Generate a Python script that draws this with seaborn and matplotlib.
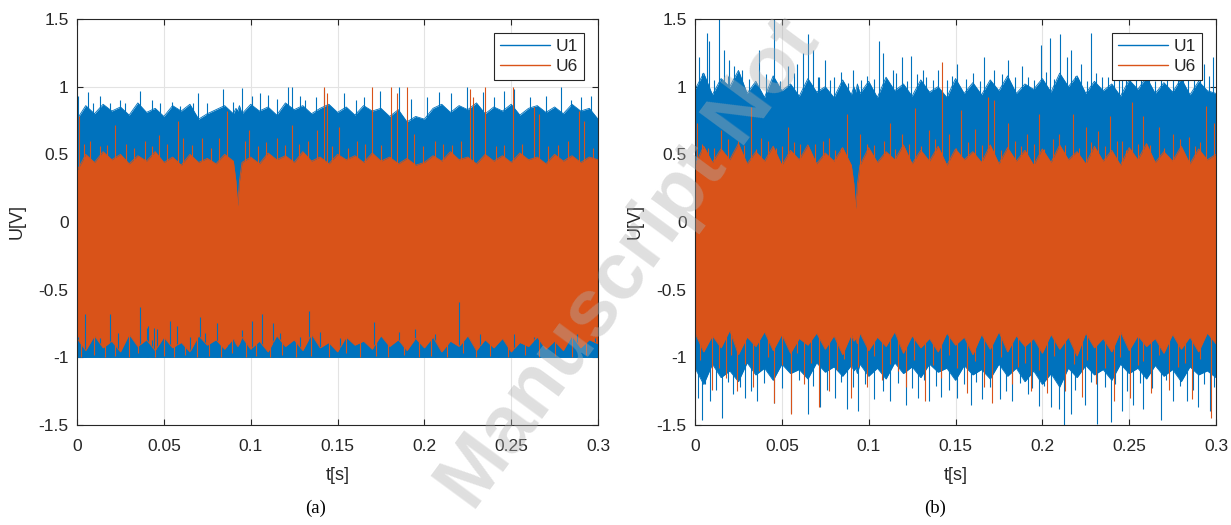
import matplotlib
matplotlib.use("Agg")
import matplotlib.pyplot as plt
import seaborn as sns

# time axis + tick labels
xticks = [0, 0.05, 0.1, 0.15, 0.2, 0.25, 0.3]
xtick_labels = ["0", "0.05", "0.1", "0.15", "0.2", "0.25", "0.3"]
yticks = [-1.5, -1, -0.5, 0, 0.5, 1, 1.5]
ytick_labels = ["-1.5", "-1", "-0.5", "0", "0.5", "1", "1.5"]

env_t = [0.000, 0.005, 0.010, 0.015, 0.020, 0.025, 0.030, 0.035, 0.040, 0.045,
         0.050, 0.055, 0.060, 0.065, 0.070, 0.075, 0.080, 0.085, 0.090,
         0.0915, 0.0925, 0.0935,
         0.095, 0.100, 0.105, 0.110, 0.115, 0.120, 0.125, 0.130, 0.135, 0.140, 0.145,
         0.150, 0.155, 0.160, 0.165, 0.170, 0.175, 0.180, 0.185, 0.190, 0.195,
         0.200, 0.205, 0.210, 0.215, 0.220, 0.225, 0.230, 0.235, 0.240, 0.245,
         0.250, 0.255, 0.260, 0.265, 0.270, 0.275, 0.280, 0.285, 0.290, 0.295, 0.300]

# ---- panel (a) ----
u1a_hi = [0.76, 0.86, 0.80, 0.87, 0.82, 0.85, 0.79, 0.88, 0.81, 0.84, 0.78, 0.86, 0.82, 0.87, 0.76, 0.80, 0.83, 0.86, 0.80,
          0.84, 0.82, 0.86,
          0.80, 0.87, 0.82, 0.85, 0.79, 0.88, 0.83, 0.86, 0.80, 0.84, 0.87, 0.81, 0.85, 0.79, 0.86, 0.82, 0.84, 0.78, 0.83, 0.74, 0.78,
          0.76, 0.84, 0.87, 0.81, 0.86, 0.83, 0.88, 0.80, 0.85, 0.82, 0.87, 0.79, 0.84, 0.86, 0.81, 0.85, 0.80, 0.87, 0.82, 0.84, 0.76]
u1a_lo = [-1.0, -1.0, -1.0, -1.0, -1.0, -1.0, -1.0, -1.0, -1.0, -1.0, -1.0, -1.0, -1.0, -1.0, -1.0, -1.0, -1.0, -1.0, -1.0,
          -1.0, -1.0, -1.0,
          -1.0, -1.0, -1.0, -1.0, -1.0, -1.0, -1.0, -1.0, -1.0, -1.0, -1.0, -1.0, -1.0, -1.0, -1.0, -1.0, -1.0, -1.0, -1.0, -1.0, -1.0,
          -1.0, -1.0, -1.0, -1.0, -1.0, -1.0, -1.0, -1.0, -1.0, -1.0, -1.0, -1.0, -1.0, -1.0, -1.0, -1.0, -1.0, -1.0, -1.0, -1.0, -1.0]
u6a_hi = [0.38, 0.50, 0.44, 0.52, 0.46, 0.50, 0.43, 0.49, 0.45, 0.52, 0.44, 0.48, 0.42, 0.50, 0.44, 0.47, 0.43, 0.50, 0.45,
          0.30, 0.12, 0.30,
          0.44, 0.48, 0.43, 0.51, 0.46, 0.49, 0.44, 0.52, 0.45, 0.48, 0.43, 0.50, 0.46, 0.49, 0.44, 0.51, 0.45, 0.48, 0.43, 0.47, 0.42,
          0.44, 0.49, 0.45, 0.52, 0.46, 0.48, 0.43, 0.50, 0.45, 0.49, 0.44, 0.51, 0.46, 0.48, 0.43, 0.50, 0.45, 0.49, 0.44, 0.48, 0.46]
u6a_lo = [-0.86, -0.95, -0.84, -0.93, -0.88, -0.96, -0.83, -0.92, -0.87, -0.95, -0.85, -0.93, -0.89, -0.96, -0.84, -0.91, -0.87, -0.94, -0.86,
          -0.90, -0.92, -0.90,
          -0.85, -0.94, -0.88, -0.96, -0.84, -0.92, -0.87, -0.95, -0.83, -0.93, -0.89, -0.96, -0.85, -0.91, -0.88, -0.94, -0.84, -0.92, -0.87, -0.95, -0.86,
          -0.93, -0.85, -0.96, -0.88, -0.92, -0.84, -0.95, -0.87, -0.93, -0.86, -0.96, -0.89, -0.92, -0.85, -0.94, -0.88, -0.95, -0.84, -0.93, -0.87, -0.90]

u1a_up_t = [0.0008, 0.0065, 0.0094, 0.0132, 0.019, 0.0248, 0.0276, 0.0363, 0.043, 0.0478,
            0.0545, 0.0593, 0.067, 0.0699, 0.0747, 0.0843, 0.090, 0.0948, 0.1006, 0.1054,
            0.1102, 0.115, 0.1217, 0.1236, 0.1284, 0.131, 0.1378, 0.1424, 0.1538, 0.1606,
            0.1651, 0.1743, 0.1856, 0.1925, 0.2016, 0.2084, 0.2153, 0.2248, 0.2335, 0.2403,
            0.246, 0.2517, 0.2608, 0.2699, 0.2786, 0.2847, 0.2904, 0.2961]
u1a_up_v = [0.93, 0.96, 0.88, 0.93, 0.88, 0.90, 0.88, 0.97, 0.90, 0.88,
            0.89, 0.86, 0.88, 0.95, 0.88, 0.98, 0.89, 0.99, 0.93, 0.95,
            0.94, 0.91, 1.00, 1.00, 0.93, 0.90, 0.92, 0.98, 0.95, 0.90,
            0.92, 0.97, 1.00, 0.91, 0.92, 0.96, 0.95, 1.00, 0.96, 0.92,
            0.97, 0.98, 0.92, 0.93, 1.00, 0.90, 0.92, 0.93]
# blue strokes that show through the orange band near the bottom
u1a_gap_t = [0.0008, 0.0046, 0.0132, 0.019, 0.0238, 0.0315, 0.0363, 0.0411, 0.043, 0.0535,
             0.0574, 0.065, 0.0708, 0.0737, 0.0804, 0.0871, 0.0948, 0.1006, 0.1063, 0.113,
             0.1169, 0.1246, 0.1284, 0.1333, 0.1401, 0.1515, 0.1708, 0.1856, 0.1948, 0.2062,
             0.2198, 0.2323, 0.2426, 0.2517, 0.2631, 0.2745, 0.2881, 0.2984, 0.0400, 0.0445, 0.0460]
u1a_gap_v = [-0.85, -0.68, -0.86, -0.68, -0.82, -0.95, -0.63, -0.77, -0.87, -0.73,
             -0.77, -0.85, -0.70, -0.82, -0.75, -0.90, -0.80, -0.73, -0.68, -0.75,
             -0.82, -0.90, -0.85, -0.66, -0.81, -0.86, -0.74, -0.81, -0.79, -0.83,
             -0.59, -0.83, -0.91, -0.83, -0.85, -0.88, -0.83, -0.86, -0.78, -0.78, -0.79]

u6a_up_t = [0.001, 0.0075, 0.0216, 0.0474, 0.058, 0.061, 0.072, 0.082, 0.0866, 0.0968,
            0.099, 0.115, 0.124, 0.133, 0.138, 0.142, 0.144, 0.151, 0.161, 0.170,
            0.181, 0.184, 0.190, 0.194, 0.206, 0.226, 0.228, 0.235, 0.251, 0.263,
            0.266, 0.283, 0.289, 0.292,
            0.004, 0.013, 0.017, 0.028, 0.033, 0.039, 0.043, 0.052, 0.066, 0.077,
            0.104, 0.109, 0.120, 0.128, 0.147, 0.156, 0.166, 0.175, 0.199, 0.211,
            0.216, 0.221, 0.241, 0.246, 0.256, 0.271, 0.277, 0.297]
u6a_up_v = [0.78, 0.60, 0.72, 0.64, 0.75, 0.62, 0.62, 0.62, 0.82, 0.60,
            0.68, 0.62, 0.72, 0.60, 0.68, 1.00, 0.95, 0.70, 0.60, 1.00,
            1.00, 0.95, 1.00, 0.65, 0.60, 0.98, 0.92, 1.00, 1.00, 0.85,
            0.80, 0.60, 0.82, 0.75,
            0.58, 0.56, 0.57, 0.58, 0.55, 0.60, 0.56, 0.58, 0.57, 0.55,
            0.56, 0.59, 0.57, 0.58, 0.56, 0.55, 0.58, 0.57, 0.56, 0.58,
            0.57, 0.60, 0.56, 0.57, 0.58, 0.56, 0.57, 0.55]
u6a_dn_t = [0.002, 0.010, 0.016, 0.022, 0.030, 0.035, 0.045, 0.050, 0.056, 0.062,
            0.069, 0.076, 0.083, 0.089, 0.097, 0.103, 0.111, 0.118, 0.126, 0.135,
            0.145, 0.155, 0.163, 0.172, 0.179, 0.188, 0.197, 0.204, 0.213, 0.222,
            0.230, 0.238, 0.248, 0.258, 0.266, 0.275, 0.285, 0.293]
u6a_dn_v = [-1.00, -0.98, -1.00, -0.99, -1.00, -0.97, -1.00, -0.99, -1.00, -0.98,
            -1.00, -0.99, -1.00, -0.97, -1.00, -0.99, -1.00, -0.98, -1.00, -0.99,
            -1.00, -0.97, -1.00, -0.99, -1.00, -0.98, -1.00, -0.99, -1.00, -0.97,
            -1.00, -0.99, -1.00, -0.98, -1.00, -0.99, -1.00, -0.98]

# ---- panel (b) ----
u1b_hi = [0.98, 1.10, 0.94, 1.06, 1.00, 1.12, 0.95, 1.04, 0.92, 1.08, 0.97, 1.02, 0.93, 1.06, 0.96, 1.00, 0.92, 1.05, 0.94,
          1.00, 0.96, 1.02,
          0.95, 1.04, 0.92, 1.07, 0.97, 1.02, 0.93, 1.05, 0.96, 1.00, 0.92, 1.06, 0.95, 1.03, 0.94, 1.05, 0.97, 1.08, 0.95, 1.02, 0.98,
          1.06, 0.96, 1.10, 1.00, 1.08, 0.95, 1.04, 0.97, 1.02, 0.93, 1.05, 0.98, 1.07, 0.95, 1.03, 0.96, 1.06, 0.94, 1.04, 0.97, 0.95]
u1b_lo = [-1.08, -1.20, -1.05, -1.15, -1.10, -1.18, -1.04, -1.13, -1.08, -1.17, -1.05, -1.12, -1.09, -1.16, -1.04, -1.11, -1.07, -1.14, -1.06,
          -1.10, -1.08, -1.12,
          -1.05, -1.14, -1.08, -1.16, -1.04, -1.12, -1.07, -1.15, -1.05, -1.11, -1.08, -1.17, -1.06, -1.13, -1.09, -1.16, -1.05, -1.14, -1.08, -1.18, -1.10,
          -1.20, -1.12, -1.22, -1.08, -1.15, -1.06, -1.13, -1.09, -1.17, -1.05, -1.12, -1.08, -1.16, -1.06, -1.14, -1.09, -1.18, -1.07, -1.13, -1.10, -1.15]
u6b_hi = [0.42, 0.56, 0.44, 0.54, 0.46, 0.58, 0.43, 0.52, 0.45, 0.56, 0.42, 0.53, 0.46, 0.57, 0.43, 0.51, 0.45, 0.55, 0.42,
          0.28, 0.10, 0.28,
          0.42, 0.55, 0.44, 0.52, 0.46, 0.57, 0.43, 0.53, 0.45, 0.56, 0.42, 0.54, 0.46, 0.52, 0.44, 0.57, 0.43, 0.55, 0.45, 0.53, 0.42,
          0.54, 0.44, 0.57, 0.46, 0.52, 0.43, 0.56, 0.45, 0.53, 0.42, 0.55, 0.46, 0.58, 0.44, 0.52, 0.45, 0.56, 0.43, 0.54, 0.46, 0.50]
u6b_lo = [-0.82, -0.96, -0.84, -0.93, -0.80, -0.98, -0.85, -0.92, -0.81, -0.95, -0.83, -0.97, -0.86, -0.91, -0.82, -0.94, -0.84, -0.98, -0.83,
          -0.88, -0.86, -0.90,
          -0.82, -0.95, -0.85, -0.92, -0.81, -0.97, -0.84, -0.93, -0.86, -0.96, -0.82, -0.91, -0.85, -0.98, -0.83, -0.94, -0.81, -0.96, -0.84, -0.92, -0.86,
          -0.97, -0.83, -0.94, -0.85, -0.99, -0.82, -0.93, -0.86, -0.96, -0.81, -0.95, -0.84, -0.92, -0.86, -0.97, -0.83, -0.94, -0.85, -0.96, -0.82, -0.90]

u1b_up_t = [0.0025, 0.0067, 0.0082, 0.014, 0.0165, 0.0194, 0.0222, 0.037, 0.0453, 0.0533,
            0.0587, 0.0624, 0.0649, 0.0677, 0.0712, 0.0748, 0.0802, 0.0908, 0.0956, 0.1057,
            0.108, 0.1138, 0.1192, 0.1244, 0.131, 0.1368,
            0.1508, 0.1666, 0.1723, 0.1802, 0.1881, 0.1915, 0.1994, 0.2046, 0.2102, 0.2141,
            0.2163, 0.222, 0.2283, 0.2344, 0.2412, 0.2457, 0.2503, 0.2566, 0.2616, 0.2683,
            0.2751, 0.2808, 0.2876, 0.2932, 0.2982,
            0.004, 0.011, 0.019, 0.027, 0.031, 0.041, 0.049, 0.057, 0.071, 0.078,
            0.084, 0.088, 0.099, 0.103, 0.116, 0.122, 0.128, 0.133, 0.140, 0.145,
            0.148, 0.156, 0.160, 0.164, 0.177, 0.184, 0.195, 0.202, 0.207, 0.219,
            0.226, 0.231, 0.238, 0.244, 0.248, 0.254, 0.259, 0.265, 0.272, 0.278,
            0.284, 0.291, 0.296]
u1b_up_v = [1.22, 1.40, 1.34, 1.50, 1.27, 1.20, 1.15, 1.27, 1.50, 1.15,
            1.17, 1.25, 1.39, 1.27, 1.07, 1.20, 1.07, 1.12, 1.05, 1.34,
            1.25, 1.12, 1.22, 1.23, 1.12, 1.05,
            1.17, 1.22, 1.12, 1.20, 1.15, 1.07, 1.31, 1.36, 1.39, 1.22,
            1.27, 1.17, 1.40, 1.07, 1.15, 1.22, 1.15, 1.25, 1.12, 1.27,
            1.15, 1.17, 1.22, 1.17, 1.22,
            1.10, 1.05, 1.08, 1.12, 1.06, 1.09, 1.04, 1.10, 1.07, 1.05,
            1.11, 1.03, 1.08, 1.06, 1.10, 1.04, 1.09, 1.07, 1.12, 1.05,
            1.08, 1.06, 1.10, 1.04, 1.09, 1.07, 1.05, 1.11, 1.06, 1.08,
            1.04, 1.10, 1.07, 1.05, 1.09, 1.06, 1.11, 1.04, 1.08, 1.06,
            1.10, 1.05, 1.08]
u1b_dn_t = [0.0016, 0.0043, 0.0084, 0.0158, 0.0219, 0.0287, 0.0355, 0.0457, 0.0554, 0.0649,
            0.0717, 0.0807, 0.0875, 0.0938, 0.1033, 0.1124, 0.1214, 0.1282, 0.135, 0.1417,
            0.1508, 0.1587, 0.1655, 0.1757, 0.1824, 0.1915, 0.1983, 0.2051, 0.2096, 0.2125,
            0.2164, 0.2243, 0.2317, 0.2394, 0.2458, 0.2525, 0.2582, 0.2684, 0.2751, 0.2831,
            0.2898, 0.2966,
            0.006, 0.012, 0.019, 0.026, 0.032, 0.040, 0.050, 0.060, 0.068, 0.076,
            0.084, 0.091, 0.098, 0.108, 0.117, 0.125, 0.132, 0.139, 0.146, 0.155,
            0.162, 0.170, 0.179, 0.187, 0.194, 0.201, 0.219, 0.228, 0.236, 0.242,
            0.249, 0.256, 0.263, 0.271, 0.279, 0.287, 0.293, 0.299]
u1b_dn_v = [-1.30, -1.46, -1.32, -1.45, -1.27, -1.30, -1.32, -1.34, -1.41, -1.42,
            -1.37, -1.30, -1.38, -1.40, -1.31, -1.32, -1.35, -1.30, -1.32, -1.29,
            -1.30, -1.35, -1.31, -1.31, -1.32, -1.27, -1.36, -1.37, -1.38, -1.50,
            -1.42, -1.35, -1.49, -1.48, -1.40, -1.35, -1.38, -1.46, -1.32, -1.32,
            -1.37, -1.40,
            -1.20, -1.24, -1.18, -1.22, -1.25, -1.19, -1.23, -1.17, -1.21, -1.24,
            -1.18, -1.22, -1.20, -1.25, -1.19, -1.23, -1.17, -1.21, -1.24, -1.20,
            -1.18, -1.22, -1.25, -1.19, -1.23, -1.21, -1.24, -1.18, -1.22, -1.20,
            -1.25, -1.19, -1.23, -1.17, -1.21, -1.24, -1.20, -1.22]

u6b_up_t = [0.0009, 0.0072, 0.0151, 0.0246, 0.0321, 0.0382, 0.0468, 0.0536, 0.0604, 0.0739,
            0.0807, 0.0875, 0.095, 0.0988, 0.1124, 0.1191, 0.1264, 0.135, 0.1424, 0.1463,
            0.1531, 0.1614, 0.1689, 0.1723, 0.1802, 0.191, 0.1983, 0.2096, 0.2175, 0.2254,
            0.2322, 0.239, 0.2457, 0.2514, 0.2582, 0.2672, 0.2751, 0.2842, 0.2943, 0.2989,
            0.004, 0.011, 0.019, 0.028, 0.035, 0.042, 0.050, 0.057, 0.064, 0.069,
            0.077, 0.084, 0.103, 0.109, 0.115, 0.123, 0.130, 0.138, 0.150, 0.157,
            0.165, 0.176, 0.184, 0.188, 0.195, 0.201, 0.206, 0.213, 0.221, 0.228,
            0.236, 0.243, 0.248, 0.255, 0.262, 0.270, 0.279, 0.288, 0.291]
u6b_up_v = [0.73, 0.55, 0.68, 0.60, 0.85, 0.62, 0.55, 0.70, 0.58, 0.60,
            0.53, 0.80, 0.65, 0.58, 0.73, 0.65, 0.84, 0.68, 1.18, 0.65,
            0.83, 0.69, 0.92, 0.90, 0.73, 0.65, 0.80, 0.65, 0.80, 0.70,
            0.67, 0.78, 0.60, 0.89, 0.78, 0.70, 0.65, 0.63, 0.86, 0.73,
            0.58, 0.55, 0.61, 0.57, 0.54, 0.60, 0.56, 0.59, 0.53, 0.58,
            0.62, 0.55, 0.57, 0.60, 0.54, 0.58, 0.56, 0.61, 0.55, 0.59,
            0.57, 0.53, 0.60, 0.56, 0.58, 0.54, 0.61, 0.57, 0.55, 0.59,
            0.56, 0.60, 0.53, 0.58, 0.57, 0.55, 0.61, 0.56, 0.59]
u6b_dn_t = [0.0095, 0.0181, 0.0242, 0.0332, 0.0457, 0.0552, 0.0626, 0.0712, 0.0773, 0.0898,
            0.0988, 0.1078, 0.1214, 0.1327, 0.1417, 0.1564, 0.1666, 0.1711, 0.1824, 0.1937,
            0.2028, 0.213, 0.2231, 0.2311, 0.2412, 0.2503, 0.2627, 0.2729, 0.2864, 0.2973,
            0.003, 0.014, 0.021, 0.029, 0.037, 0.042, 0.050, 0.059, 0.067, 0.082,
            0.086, 0.094, 0.103, 0.112, 0.117, 0.126, 0.137, 0.146, 0.151, 0.161,
            0.176, 0.186, 0.190, 0.198, 0.207, 0.218, 0.226, 0.236, 0.245, 0.255,
            0.258, 0.267, 0.278, 0.282, 0.291]
u6b_dn_v = [-1.24, -1.15, -1.25, -1.22, -1.34, -1.42, -1.20, -1.37, -1.25, -1.30,
            -1.22, -1.17, -1.22, -1.32, -1.15, -1.26, -1.22, -1.34, -1.20, -1.25,
            -1.26, -1.25, -1.29, -1.20, -1.32, -1.30, -1.26, -1.24, -1.31, -1.45,
            -1.02, -1.08, -0.98, -1.05, -1.10, -1.00, -1.06, -0.97, -1.04, -1.09,
            -1.01, -1.07, -0.99, -1.05, -1.10, -1.02, -1.06, -0.98, -1.08, -1.03,
            -1.00, -1.07, -1.04, -1.09, -0.99, -1.05, -1.02, -1.08, -1.00, -1.06,
            -1.03, -0.98, -1.07, -1.04, -1.01]

BLUE = "#0072BD"
ORANGE = "#D95319"
LW = 0.8


def draw_panel(ax, u1_hi, u1_lo, u6_hi, u6_lo, u1_spikes, u6_spikes, u1_gaps=None):
    # U1 band + its peaks
    ax.fill_between(env_t, u1_lo, u1_hi, color=BLUE, lw=0, zorder=1)
    for t, v in u1_spikes:
        ax.vlines(t, 0, v, color=BLUE, lw=LW, zorder=1.1)
    sns.lineplot(x=env_t, y=u1_hi, color=BLUE, lw=0.6, ax=ax, zorder=1.2, label="U1")
    sns.lineplot(x=env_t, y=u1_lo, color=BLUE, lw=0.6, ax=ax, zorder=1.2)

    # U6 drawn over U1
    ax.fill_between(env_t, u6_lo, u6_hi, color=ORANGE, lw=0, zorder=2)
    if u1_gaps is not None:
        t, v = u1_gaps
        ax.vlines(t, min(u1_lo), v, color=BLUE, lw=LW, zorder=2.1)
    for t, v in u6_spikes:
        ax.vlines(t, 0, v, color=ORANGE, lw=LW, zorder=2.2)
    sns.lineplot(x=env_t, y=u6_hi, color=ORANGE, lw=0.6, ax=ax, zorder=2.3, label="U6")
    sns.lineplot(x=env_t, y=u6_lo, color=ORANGE, lw=0.6, ax=ax, zorder=2.3)

    ax.set_xlim(0, 0.3)
    ax.set_ylim(-1.5, 1.5)
    ax.set_xticks(xticks)
    ax.set_xticklabels(xtick_labels)
    ax.set_yticks(yticks)
    ax.set_yticklabels(ytick_labels)
    ax.set_xlabel("t[s]", fontsize=13)
    ax.set_ylabel("U[V]", fontsize=13)
    ax.xaxis.set_label_coords(0.5, -0.103)
    ax.yaxis.set_label_coords(-0.098, 0.5)

    h, l = ax.get_legend_handles_labels()
    keep = [(hh, ll) for hh, ll in zip(h, l) if ll in ("U1", "U6")]
    leg = ax.legend([k[0] for k in keep], [k[1] for k in keep], loc="upper right",
                    fontsize=12.5, frameon=True, fancybox=False, framealpha=1,
                    edgecolor="#262626", handlelength=2.9, handletextpad=0.3,
                    borderaxespad=0.8, borderpad=0.35, labelspacing=0.25)
    leg.get_frame().set_linewidth(0.8)
    for line in leg.get_lines():
        line.set_linewidth(1.0)
    leg.set_zorder(5)


rc = {
    "axes.edgecolor": "#262626", "axes.linewidth": 0.8,
    "grid.color": "#e3e3e3", "grid.linewidth": 0.8,
    "xtick.bottom": True, "xtick.top": True, "ytick.left": True, "ytick.right": True,
    "xtick.direction": "in", "ytick.direction": "in",
    "xtick.major.size": 4, "ytick.major.size": 4,
    "xtick.major.width": 0.8, "ytick.major.width": 0.8,
    "xtick.major.pad": 10, "ytick.major.pad": 6,
    "xtick.color": "#262626", "ytick.color": "#262626",
    "xtick.labelsize": 12.5, "ytick.labelsize": 12.5,
    "text.color": "#262626", "axes.labelcolor": "#262626",
}
sns.set_theme(style="whitegrid", rc=rc)
plt.rcParams["font.family"] = ["Liberation Sans", "DejaVu Sans"]

fig = plt.figure(figsize=(12.31, 5.25), dpi=100)
ax_a = fig.add_axes([0.0626, 0.1905, 0.4232, 0.7733])
ax_b = fig.add_axes([0.5646, 0.1905, 0.4232, 0.7733])

draw_panel(ax_a, u1a_hi, u1a_lo, u6a_hi, u6a_lo,
           [(u1a_up_t, u1a_up_v)],
           [(u6a_up_t, u6a_up_v), (u6a_dn_t, u6a_dn_v)],
           u1_gaps=(u1a_gap_t, u1a_gap_v))
draw_panel(ax_b, u1b_hi, u1b_lo, u6b_hi, u6b_lo,
           [(u1b_up_t, u1b_up_v), (u1b_dn_t, u1b_dn_v)],
           [(u6b_up_t, u6b_up_v), (u6b_dn_t, u6b_dn_v)])

fig.text(0.256, 0.032, "(a)", ha="center", va="center", fontsize=13.5,
         family=["Liberation Serif", "DejaVu Serif"], color="black")
fig.text(0.7596, 0.032, "(b)", ha="center", va="center", fontsize=13.5,
         family=["Liberation Serif", "DejaVu Serif"], color="black")

# journal watermark across the middle
fig.text(0.512, 0.495, "Manuscript Not", rotation=53.6, ha="center", va="center",
         fontsize=58, fontweight="bold", color="#b0b0b0", alpha=0.4,
         family=["Liberation Sans", "DejaVu Sans"], zorder=10)

fig.savefig("out.png", dpi=100)
